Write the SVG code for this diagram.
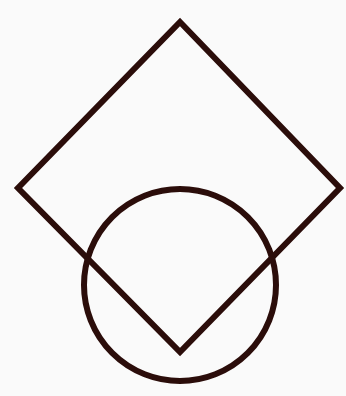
<svg xmlns="http://www.w3.org/2000/svg" width="346" height="396" viewBox="0 0 346 396">
<style>
.s{fill:none;stroke:#2b0d0a;stroke-width:6;stroke-linejoin:miter}
</style>
<rect width="346" height="396" fill="#fafafa"/>
<g id="diamond"><polygon class="s" points="180,22 340,188 180,352 18,188"/></g>
<g id="circle"><circle class="s" cx="180" cy="285" r="96"/></g>
<g id="connectors"></g>
</svg>
